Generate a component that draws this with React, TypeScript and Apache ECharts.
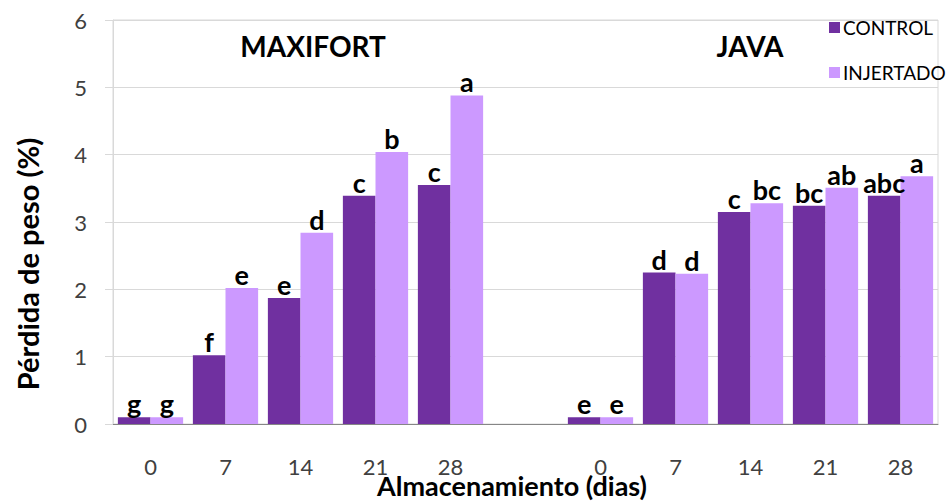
import React, { useEffect, useRef } from "react";
import * as echarts from "echarts";

const days = ["0", "7", "14", "21", "28"];
const maxifortControl = [0.1, 1.02, 1.87, 3.39, 3.55];
const maxifortInjertado = [0.1, 2.02, 2.84, 4.04, 4.88];
const javaControl = [0.1, 2.25, 3.15, 3.24, 3.39];
const javaInjertado = [0.1, 2.23, 3.28, 3.51, 3.68];
const maxifortControlLetters = ["g", "f", "e", "c", "c"];
const maxifortInjertadoLetters = ["g", "e", "d", "b", "a"];
const javaControlLetters = ["e", "d", "c", "bc", "abc"];
const javaInjertadoLetters = ["e", "d", "bc", "ab", "a"];
const yTicks = [0, 1, 2, 3, 4, 5, 6];

const FONT = "Lato, 'Open Sans', sans-serif";

export default function App() {
  const ref = useRef<HTMLDivElement>(null);
  useEffect(() => {
    if (!ref.current) return;
    const chart = echarts.init(ref.current, undefined, { renderer: "svg" });
    const cats = [...days.map((d) => "M" + d), "gap", ...days.map((d) => "J" + d)];
    const dayLabels = [...days, "", ...days];
    const ctrl = [...maxifortControl, null, ...javaControl];
    const inj = [...maxifortInjertado, null, ...javaInjertado];
    const ctrlL = [...maxifortControlLetters, "", ...javaControlLetters];
    const injL = [...maxifortInjertadoLetters, "", ...javaInjertadoLetters];
    const labelStyle = (letters: string[]) => ({
      show: true,
      position: "top" as const,
      distance: 0,
      fontFamily: FONT,
      fontWeight: "bold" as const,
      fontSize: 27,
      color: "#000",
      formatter: (p: any) => letters[p.dataIndex] || "",
    });
    const bigText = (text: string, x: number, y: number, size: number, rot = 0) => ({
      type: "text",
      x,
      y,
      rotation: rot,
      style: {
        text,
        fontFamily: FONT,
        fontWeight: "bold",
        fontSize: size,
        fill: "#000",
        align: "center",
        verticalAlign: "middle",
      },
    });
    chart.setOption({
      animation: false,
      backgroundColor: "#fff",
      grid: {
        left: 113,
        right: 10,
        top: 20,
        bottom: 77,
        show: true,
        borderColor: "#d9d9d9",
        borderWidth: 1,
      },
      legend: {
        orient: "vertical",
        left: 824,
        top: 13,
        itemWidth: 11,
        itemHeight: 11,
        itemGap: 26,
        icon: "rect",
        textStyle: { fontFamily: FONT, fontSize: 19, color: "#000", padding: [0, 0, 0, -2] },
        data: ["CONTROL", "INJERTADO"],
      },
      xAxis: {
        type: "category",
        data: cats,
        axisLine: { show: true, lineStyle: { color: "#868686", width: 1 } },
        axisTick: { show: false },
        axisLabel: {
          margin: 31,
          fontFamily: FONT,
          fontSize: 22,
          color: "#404040",
          formatter: (_v: string, i: number) => dayLabels[i],
        },
      },
      yAxis: {
        type: "value",
        min: 0,
        max: 6,
        interval: 1,
        axisLine: { show: true, lineStyle: { color: "#d9d9d9" } },
        axisTick: { show: true, length: 8, lineStyle: { color: "#d9d9d9" } },
        splitLine: { lineStyle: { color: "#d9d9d9" } },
        axisLabel: {
          margin: 26,
          fontFamily: FONT,
          fontSize: 22,
          color: "#404040",
          formatter: (v: number) => (yTicks.includes(v) ? String(v) : ""),
        },
      },
      series: [
        {
          name: "CONTROL",
          type: "bar",
          data: ctrl,
          barGap: "0%",
          barCategoryGap: "13%",
          itemStyle: { color: "#7030A0" },
          label: labelStyle(ctrlL),
        },
        {
          name: "INJERTADO",
          type: "bar",
          data: inj,
          itemStyle: { color: "#CC99FF" },
          label: labelStyle(injL),
        },
      ],
      graphic: [
        bigText("MAXIFORT", 313, 46, 28),
        bigText("JAVA", 750, 46, 28),
        bigText("Pérdida de peso (%)", 27, 264, 29, Math.PI / 2),
        bigText("Almacenamiento (dias)", 512, 485, 27),
      ],
    });
    return () => chart.dispose();
  }, []);
  return (
    <div
      ref={ref}
      style={{ position: "absolute", left: 0, top: 0, width: 948, height: 501 }}
    />
  );
}
